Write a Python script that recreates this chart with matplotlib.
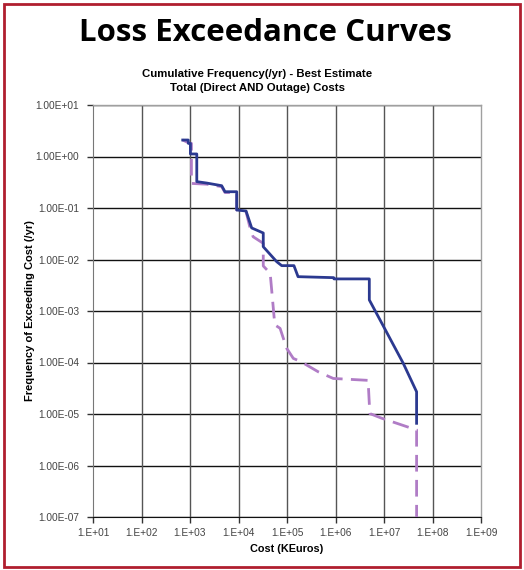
import matplotlib
matplotlib.use("Agg")
import matplotlib.pyplot as plt
from matplotlib.patches import Rectangle
from matplotlib.ticker import FixedLocator, FixedFormatter, NullLocator

# Total cost curve (solid) vertices
total_cost = [708, 922, 922, 1020, 1020, 1380, 1380, 2210, 4500, 5260, 9190, 9190,
              14300, 18700, 32400, 32400, 61400, 77800, 139000, 169000, 918000,
              930000, 4.98e6, 4.98e6, 9.8e6, 2.5e7, 4.7e7, 4.7e7]
total_freq = [2.09, 2.09, 1.8, 1.8, 1.12, 1.12, 0.325, 0.305, 0.271, 0.207, 0.207, 0.0914,
              0.0875, 0.041, 0.0327, 0.0177, 0.00906, 0.0076, 0.0076, 0.00464, 0.00444,
              0.0042, 0.0042, 0.00164, 5.0e-4, 9.6e-5, 2.7e-5, 6.6e-6]

# Direct cost curve (dashed) vertices
direct_cost = [708, 980, 1070, 1070, 2210, 4500, 5260, 9190, 9190, 14300, 17000, 20000,
               32400, 32400, 45000, 56000, 72000, 98000, 135000, 190000, 440000,
               900000, 4.7e6, 5.1e6, 8.9e6, 4.7e7, 4.7e7]
direct_freq = [2.09, 1.8, 1.8, 0.30, 0.29, 0.26, 0.20, 0.20, 0.0914, 0.085, 0.044, 0.0277,
               0.0206, 0.0075, 0.0054, 5.4e-4, 4.6e-4, 1.9e-4, 1.2e-4, 1.05e-4, 6.6e-5,
               4.9e-5, 4.5e-5, 1.02e-5, 8.3e-6, 4.9e-6, 1e-7]

x_ticks = [1e1, 1e2, 1e3, 1e4, 1e5, 1e6, 1e7, 1e8, 1e9]
x_labels = ["1.E+01", "1.E+02", "1.E+03", "1.E+04", "1.E+05", "1.E+06", "1.E+07", "1.E+08", "1.E+09"]
y_ticks = [1e1, 1e0, 1e-1, 1e-2, 1e-3, 1e-4, 1e-5, 1e-6, 1e-7]
y_labels = ["1.00E+01", "1.00E+00", "1.00E-01", "1.00E-02", "1.00E-03",
            "1.00E-04", "1.00E-05", "1.00E-06", "1.00E-07"]

W, H = 524, 570
fig = plt.figure(figsize=(W / 100, H / 100), dpi=100)
fig.patch.set_facecolor("white")

ax = fig.add_axes([93 / W, 1 - 517 / H, (481 - 93) / W, (517 - 105) / H])
ax.set_xscale("log")
ax.set_yscale("log")
ax.set_xlim(1e1, 1e9)
ax.set_ylim(1e-7, 1e1)

ax.plot(direct_cost, direct_freq, color="#B07CC6", lw=2.0, ls=(0, (6, 3)), zorder=3,
        solid_joinstyle="miter")
ax.plot(total_cost, total_freq, color="#2B3990", lw=2.0, zorder=4)

ax.xaxis.set_major_locator(FixedLocator(x_ticks))
ax.xaxis.set_major_formatter(FixedFormatter(x_labels))
ax.yaxis.set_major_locator(FixedLocator(y_ticks))
ax.yaxis.set_major_formatter(FixedFormatter(y_labels))
ax.xaxis.set_minor_locator(NullLocator())
ax.yaxis.set_minor_locator(NullLocator())

for y in y_ticks:
    ax.axhline(y, color="#111111", lw=1.0, zorder=1)
for x in x_ticks[1:-1]:
    ax.axvline(x, color="#555555", lw=1.0, zorder=1)

for s in ["top", "right"]:
    ax.spines[s].set_color("#a0a0a0")
    ax.spines[s].set_linewidth(1.0)
ax.spines["left"].set_color("#777777")
ax.spines["bottom"].set_color("#111111")

ax.tick_params(axis="x", which="major", length=4, width=1, color="#333333",
               labelsize=7.3, labelcolor="#444444", pad=4)
ax.tick_params(axis="y", which="major", length=4, width=1, color="#333333",
               labelsize=7.3, labelcolor="#444444", pad=6)
for lbl in ax.get_xticklabels() + ax.get_yticklabels():
    lbl.set_fontfamily("Liberation Sans")

ax.set_xlabel("Cost (KEuros)", fontsize=7.8, fontweight="bold", family="Liberation Sans",
              labelpad=4)
ax.set_ylabel("Frequency of Exceeding Cost (/yr)", fontsize=8, fontweight="bold",
              family="Liberation Sans", labelpad=0)

fig.text(265 / W, 1 - 33 / H, "Loss Exceedance Curves", ha="center", va="center",
         fontsize=22.5, fontweight="bold", family="Open Sans")
fig.text(257 / W, 1 - 74 / H, "Cumulative Frequency(/yr) - Best Estimate",
         ha="center", va="center", fontsize=8.2, fontweight="bold", family="Liberation Sans")
fig.text(257 / W, 1 - 88 / H, "Total (Direct AND Outage) Costs",
         ha="center", va="center", fontsize=8.2, fontweight="bold", family="Liberation Sans")

fig.patches.append(Rectangle((3.5 / W, 3.5 / H), (520 - 3.5) / W, (566 - 3.5) / H,
                             transform=fig.transFigure, fill=False,
                             edgecolor="#B01E2F", lw=2))

fig.savefig("out.png", dpi=100)
